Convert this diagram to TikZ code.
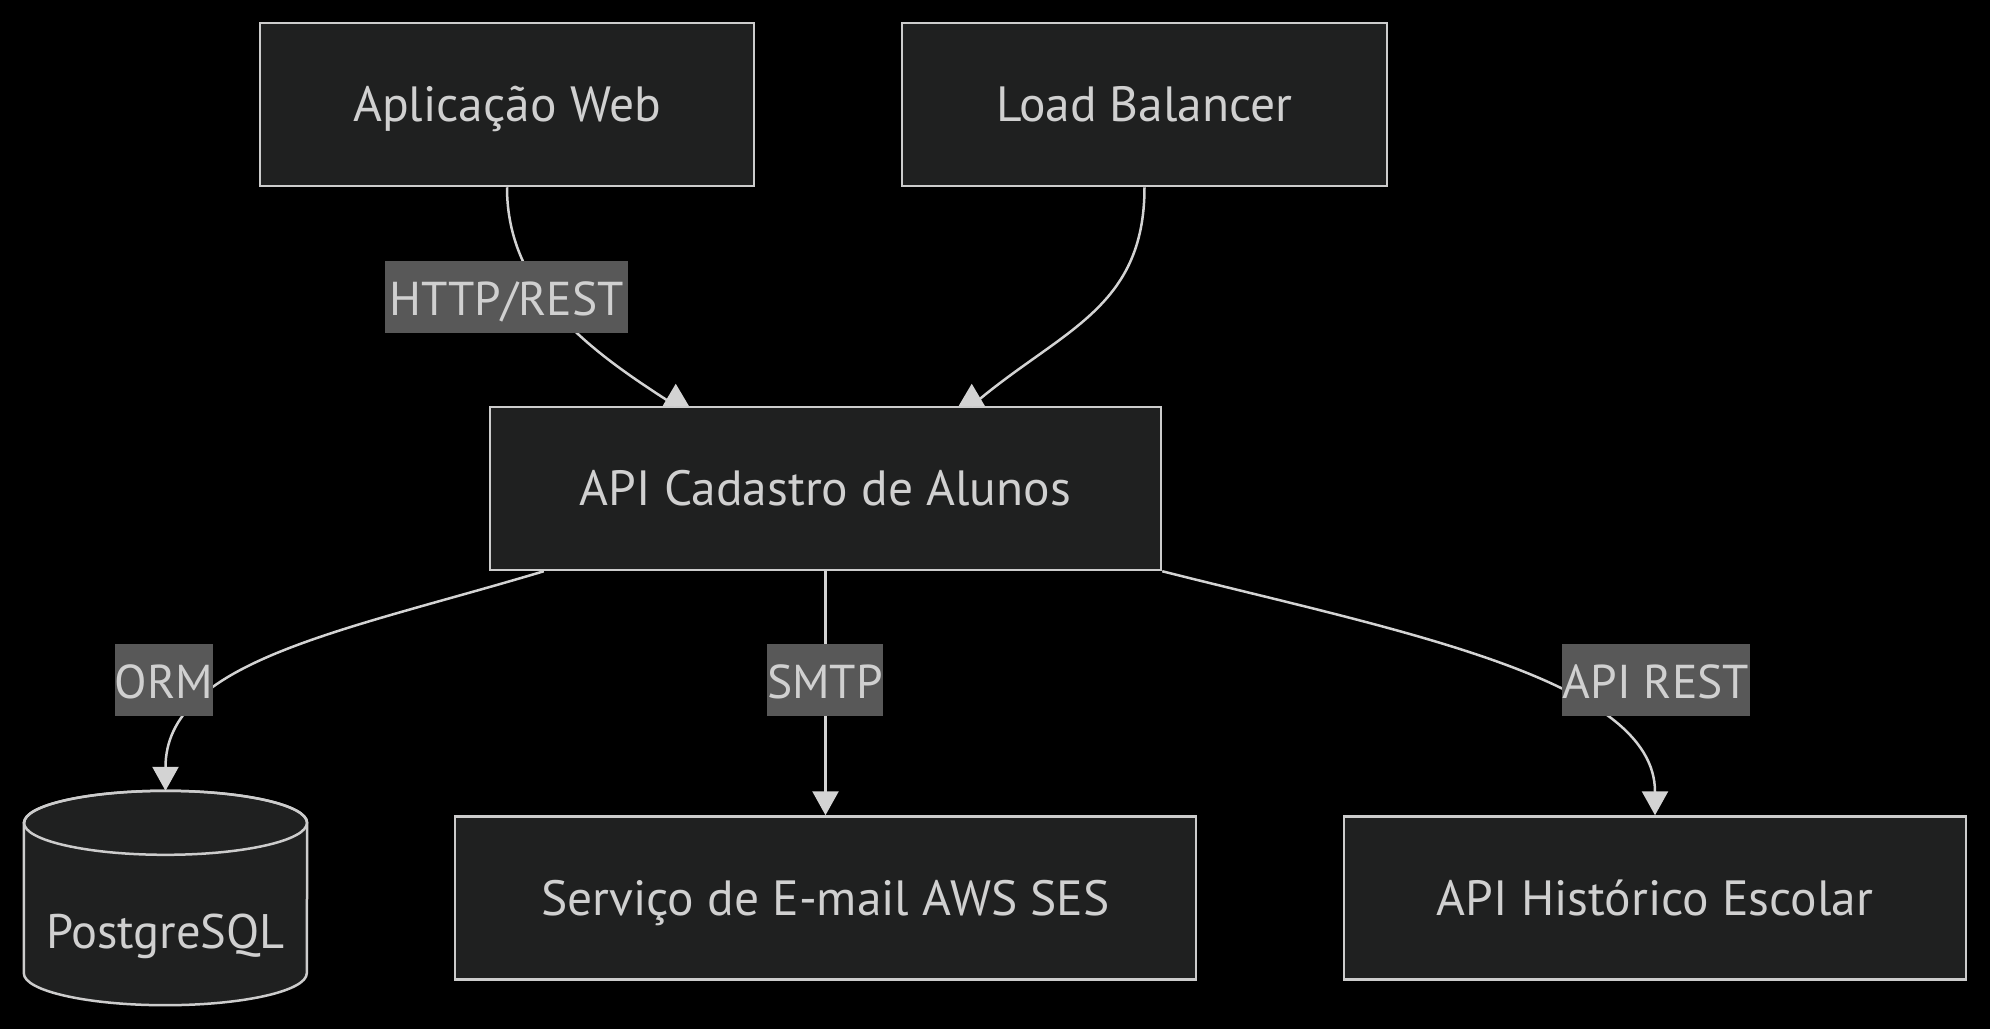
\documentclass[tikz,border=0pt]{standalone}
\usepackage{fontspec}
\setmainfont{PT Sans}
\usetikzlibrary{arrows.meta,calc}
\definecolor{bgc}{HTML}{000000}
\definecolor{nodefill}{HTML}{1F2020}
\definecolor{nodestroke}{HTML}{CCCCCC}
\definecolor{txt}{HTML}{D0D0D0}
\definecolor{lblbg}{HTML}{585858}
\definecolor{edgec}{HTML}{D3D3D3}
\begin{document}
\begin{tikzpicture}[x=1pt,y=-1pt,
  box/.style={draw=nodestroke, fill=nodefill, line width=2.5pt, text=txt,
    font=\fontsize{49.5}{58}\selectfont, inner sep=0pt, minimum height=163pt,
    text height=40pt, text depth=6pt},
  lbl/.style={fill=lblbg, text=txt, font=\fontsize{47.5}{56}\selectfont,
    inner xsep=0pt, inner ysep=0pt, minimum height=72pt,
    text height=40pt, text depth=4pt},
  link/.style={draw=edgec, line width=2.5pt},
  tipdown/.style={-{Triangle[width=26pt,length=24pt]}},
  cyl/.style={draw=nodestroke, fill=nodefill, line width=2.5pt}
]
\fill[bgc] (0,0) rectangle (1990,1029);
\useasboundingbox (0,0) rectangle (1990,1029);

% nodes
\node[box, minimum width=494pt] (web) at (507,104.5) {Aplicação Web};
\node[box, minimum width=485pt] (lb) at (1144.5,104.5) {Load Balancer};
\node[box, minimum width=671pt] (cad) at (825.5,488.5) {API Cadastro de Alunos};
\node[box, minimum width=741pt] (email) at (825.5,898) {Serviço de E-mail AWS SES};
\node[box, minimum width=622pt] (hist) at (1655,898) {API Histórico Escolar};

% database cylinder
\node[minimum width=283pt, minimum height=214pt, inner sep=0pt] (pg) at (165.5,898) {};
\path[cyl] (pg.north west) ++(0,32) -- ($(pg.south west)+(0,-32)$)
  arc[start angle=180, end angle=0, x radius=141.5, y radius=32]
  -- ($(pg.north east)+(0,32)$)
  arc[start angle=0, end angle=-180, x radius=141.5, y radius=32] -- cycle;
\draw[cyl, fill=none] ($(pg.north)+(0,32)$) ellipse[x radius=141.5, y radius=32];
\node[text=txt, font=\fontsize{48.5}{58}\selectfont, inner sep=0pt,
  text height=40pt, text depth=6pt] (pgtxt) at (165.5,931) {PostgreSQL};

% anchor points on API Cadastro
\coordinate (cadin1) at ($(cad.north west)+(187,0)$);
\coordinate (cadin2) at ($(cad.north west)+(483,0)$);
\coordinate (cadout1) at ($(cad.south west)+(55,0)$);

% edges
\draw[link] (web.south) .. controls ($(web.south)+(0,104)$) and ($(web.south)+(83,164)$) .. (cadin1);
\draw[link] (lb.south) .. controls ($(lb.south)+(0,123)$) and ($(lb.south)+(-85,143)$) .. (cadin2);
\fill[edgec] (cadin1) ++(-13,0) -- ++(26,0) -- ++(-13,-22) -- cycle;
\fill[edgec] (cadin2) ++(-13,0) -- ++(26,0) -- ++(-13,-22) -- cycle;

\draw[link, tipdown] (cadout1) .. controls ($(cadout1)+(-200,60)$) and ($(pg.north)+(0,-130)$) .. (pg.north);
\draw[link, tipdown] (cad.south) -- (email.north);
\draw[link, tipdown] (cad.south east) .. controls ($(cad.south east)+(238,60)$) and ($(hist.north)+(0,-136)$) .. (hist.north);

% edge labels
\node[lbl, minimum width=243pt] (l1) at (506.5,297) {HTTP/REST};
\node[lbl, minimum width=92pt] (l2) at (164,680) {ORM};
\node[lbl, minimum width=110pt] (l3) at (825,680) {SMTP};
\node[lbl, minimum width=188pt] (l4) at (1656,680) {API REST};
\end{tikzpicture}
\end{document}
